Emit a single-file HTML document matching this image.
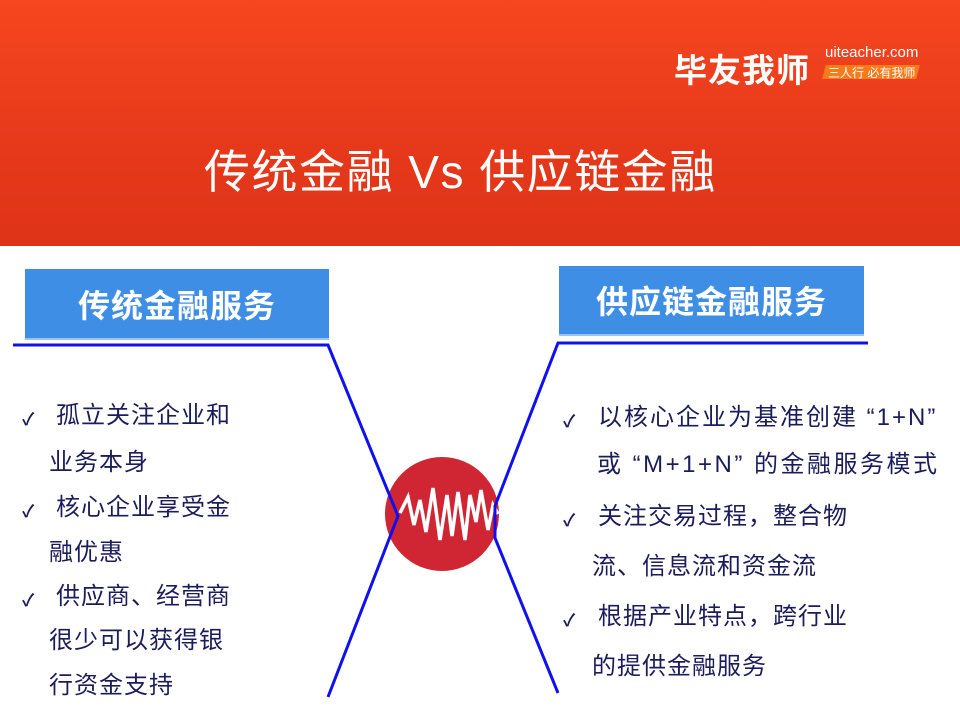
<!DOCTYPE html>
<html><head><meta charset="utf-8"><style>
body{margin:0;width:960px;height:720px;overflow:hidden;background:#fff;position:relative;font-family:"Liberation Sans","Noto Sans CJK SC",sans-serif}
.hdr{position:absolute;left:0;top:0;width:960px;height:246px;background:linear-gradient(#f6461f,#e6391b 60%,#df3318)}
.t{position:absolute;white-space:nowrap}
.box{position:absolute;background:#3f8ee6;color:#fff;font-weight:bold;font-size:32px;letter-spacing:1px;display:flex;align-items:center;justify-content:center;box-shadow:0 2px 0 #9cc4f2}
.tx{position:absolute;white-space:nowrap;color:#1c1c5c;font-size:24px;line-height:24px;letter-spacing:1px}
.ck{position:absolute;font-size:17px;font-weight:bold;color:#1c1c5c}
</style></head><body>
<div class="hdr"></div>
<div class="t" style="left:674px;top:44px;font-size:33px;font-weight:bold;color:#fff;letter-spacing:1px">毕友我师</div>
<div class="t" style="left:825px;top:44px;font-size:15px;color:#fff">uiteacher.com</div>
<div style="position:absolute;left:824px;top:65px;width:94px;height:14px;background:#f77b1a;transform:skewX(-15deg)"></div>
<div class="t" style="left:828px;top:64px;font-size:12px;color:#fff">三人行 必有我师</div>
<div class="t" style="left:204px;top:136px;font-size:46px;color:#fff;letter-spacing:1.5px">传统金融 Vs 供应链金融</div>

<div class="box" style="left:25px;top:269px;width:304px;height:69px">传统金融服务</div>
<div class="box" style="left:559px;top:266px;width:305px;height:68px">供应链金融服务</div>

<svg width="960" height="720" style="position:absolute;left:0;top:0">
<circle cx="442" cy="514" r="57" fill="#d02633"/>
<polyline points="400,513 408,497 414,525 420,500 426,532 433,488 440,540 447,495 452,536 458,492 465,540 470,495 476,522 481,490 488,530 493,505 498,514" fill="none" stroke="#fff" stroke-width="3.5" stroke-linejoin="miter"/>
<polyline points="13,345 328,345 398,516 328,697" fill="none" stroke="#1010ee" stroke-width="3"/>
<polyline points="868,343 558,343 495,506 495,538 558,693" fill="none" stroke="#1010ee" stroke-width="3"/>
</svg>

<div class="ck" style="left:22px;top:405px">✓</div>
<div class="tx" style="left:56px;top:404px">孤立关注企业和</div>
<div class="tx" style="left:49px;top:451px">业务本身</div>
<div class="ck" style="left:22px;top:497px">✓</div>
<div class="tx" style="left:56px;top:496px">核心企业享受金</div>
<div class="tx" style="left:49px;top:541px">融优惠</div>
<div class="ck" style="left:22px;top:586px">✓</div>
<div class="tx" style="left:56px;top:585px">供应商、经营商</div>
<div class="tx" style="left:49px;top:629px">很少可以获得银</div>
<div class="tx" style="left:49px;top:674px">行资金支持</div>

<div class="ck" style="left:563px;top:407px">✓</div>
<div class="tx" style="left:598px;top:406px;letter-spacing:2px">以核心企业为基准创建 “1+N”</div>
<div class="tx" style="left:597px;top:453px;letter-spacing:2.5px">或 “M+1+N” 的金融服务模式</div>
<div class="ck" style="left:563px;top:506px">✓</div>
<div class="tx" style="left:598px;top:505px">关注交易过程，整合物</div>
<div class="tx" style="left:592px;top:555px">流、信息流和资金流</div>
<div class="ck" style="left:563px;top:606px">✓</div>
<div class="tx" style="left:598px;top:605px">根据产业特点，跨行业</div>
<div class="tx" style="left:592px;top:655px">的提供金融服务</div>
</body></html>
